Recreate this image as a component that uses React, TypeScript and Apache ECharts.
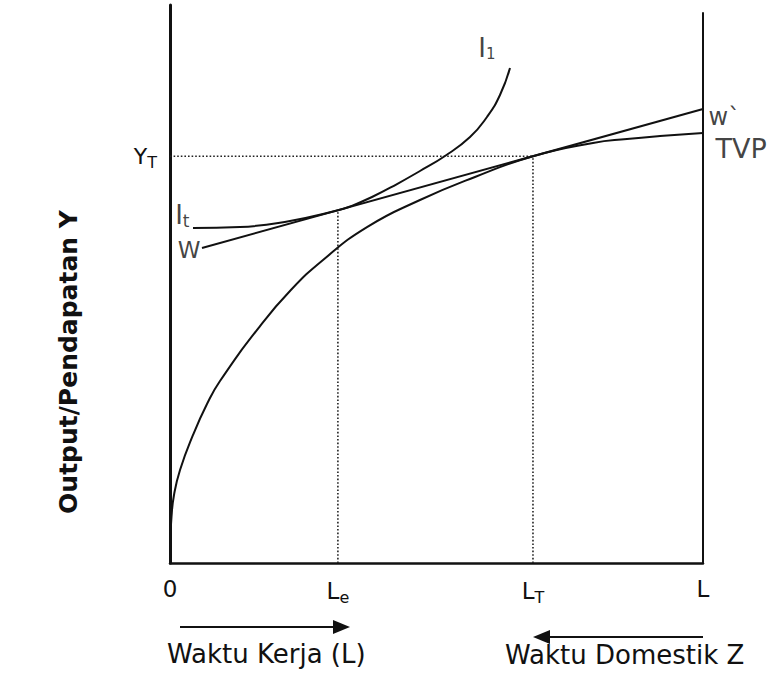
import React, { useEffect, useRef } from "react";
import * as echarts from "echarts";

// ---- data (abstract units: x = time 0..L(100), y = output 0..100) ----
const tvpCurve: [number, number][] = [
  [0, 0], [0.09, 4.12], [0.28, 8.24], [0.75, 12.19], [1.88, 16.67], [4.32, 22.94],
  [6.94, 28.49], [9.38, 32.62], [16.89, 42.47], [22.51, 48.75], [28.71, 54.3],
  [36.96, 60.2], [46.9, 65.05], [57.22, 69.18], [68.1, 72.9], [79.36, 75.27],
  [85.74, 75.99], [91.93, 76.52], [100, 77.06],
];
const indifferenceCurve: [number, number][] = [
  [4.32, 60.04], [13.13, 60.22], [22.51, 61.31], [31.52, 63.2], [33.77, 63.89],
  [37.9, 65.59], [42.59, 67.92], [46.9, 70.25], [51.59, 72.94], [56.29, 76.34],
  [59.47, 79.93], [61.91, 83.87], [63.79, 88.71],
];
const wageLine: [number, number][] = [[6.0, 56.45], [100, 81.36]];
const Le = 31.5;
const LT = 68.1;
const Lmax = 100;
const YT = 72.9;
const YLe = 63.2;
const rightBorderTop = 98.7;
const xTickValues = [0, Le, LT, Lmax];
const xTickLabels = ["0", "L{s|e}", "L{s|T}", "L"];
const yTickValues = [YT];
const yTickLabels = ["Y{s|T}"];
const yTitle = "Output/Pendapatan Y";
const bottomLeftText = "Waktu Kerja (L)";
const bottomRightText = "Waktu Domestik Z";

const FONT = "DejaVu Sans";
const INK = "#111";

export default function App() {
  const ref = useRef<HTMLDivElement>(null);
  useEffect(() => {
    if (!ref.current) return;
    const chart = echarts.init(ref.current, undefined, { renderer: "svg" });
    const sub = (fs: number, pad: number) => ({ fontSize: fs, fontFamily: FONT, color: INK, padding: [pad, 0, 0, 0] });
    const lbl = (pt: [number, number], text: string, label: any) => ({
      value: pt,
      label: { show: true, formatter: text, color: INK, fontFamily: FONT, ...label },
    });
    const lineStyle = { color: INK, width: 2 };
    const dotted = { color: "#222", width: 1.6, type: [1.6, 2] as any };

    chart.setOption({
      animation: false,
      backgroundColor: "#fff",
      grid: { left: 170, right: 71, top: 5, bottom: 114, containLabel: false },
      xAxis: {
        type: "value", min: 0, max: Lmax,
        axisLine: { show: true, onZero: false, lineStyle: { color: INK, width: 2.5 } },
        axisTick: { show: false },
        splitLine: { show: false },
        axisLabel: {
          customValues: xTickValues,
          margin: 14,
          formatter: (v: number) => xTickLabels[xTickValues.indexOf(v)] ?? "",
          color: INK, fontFamily: FONT, fontSize: 23,
          rich: { s: sub(16, 12) },
        },
      },
      yAxis: {
        type: "value", min: 0, max: 100,
        axisLine: { show: true, onZero: false, lineStyle: { color: INK, width: 3 } },
        axisTick: { show: false },
        splitLine: { show: false },
        axisLabel: {
          customValues: yTickValues,
          margin: 13,
          formatter: (v: number) => yTickLabels[yTickValues.indexOf(v)] ?? "",
          color: INK, fontFamily: FONT, fontSize: 22,
          rich: { s: sub(16, 12) },
        },
      },
      series: [
        { type: "line", data: [[0, YT], [LT, YT]], showSymbol: false, lineStyle: dotted, silent: true },
        { type: "line", data: [[Le, 0], [Le, YLe]], showSymbol: false, lineStyle: dotted, silent: true },
        { type: "line", data: [[LT, 0], [LT, YT]], showSymbol: false, lineStyle: dotted, silent: true },
        { type: "line", data: [[Lmax, 0], [Lmax, rightBorderTop]], showSymbol: false, lineStyle: { color: INK, width: 2 }, silent: true },
        { type: "line", name: "TVP", data: tvpCurve, showSymbol: false, smooth: 0.5, lineStyle, silent: true },
        { type: "line", name: "I", data: indifferenceCurve, showSymbol: false, smooth: 0.5, lineStyle, silent: true },
        { type: "line", name: "w", data: wageLine, showSymbol: false, lineStyle, silent: true },
        {
          type: "scatter", symbolSize: 1, itemStyle: { color: "rgba(0,0,0,0)" }, silent: true,
          data: [
            lbl(indifferenceCurve[0], "I{s|t}", { position: "left", distance: 3, offset: [0, -13], fontSize: 26, rich: { s: sub(17, 12) } }),
            lbl(indifferenceCurve[indifferenceCurve.length - 1], "I{s|1}", { position: "left", distance: 14, offset: [0, -20], fontSize: 26, rich: { s: sub(15, 12) } }),
            lbl(wageLine[0], "W", { position: "left", distance: 1, offset: [0, 2], fontSize: 23 }),
            lbl(wageLine[1], "w`", { position: "right", distance: 5, offset: [0, 8], fontSize: 24 }),
            lbl(tvpCurve[tvpCurve.length - 1], "TVP", { position: "right", distance: 12, offset: [0, 15], fontSize: 27 }),
          ],
        },
      ],
      graphic: [
        {
          type: "text", x: 68, y: 362, rotation: Math.PI / 2,
          style: { text: yTitle, fill: INK, font: `bold 25px ${FONT}`, align: "center", verticalAlign: "middle" },
        },
        { type: "line", shape: { x1: 180, y1: 627, x2: 336, y2: 627 }, style: { stroke: INK, lineWidth: 2 } },
        { type: "polygon", shape: { points: [[333, 620], [350, 627], [333, 634]] }, style: { fill: INK } },
        { type: "line", shape: { x1: 547, y1: 637, x2: 703, y2: 637 }, style: { stroke: INK, lineWidth: 2 } },
        { type: "polygon", shape: { points: [[550, 630], [533, 637], [550, 644]] }, style: { fill: INK } },
        {
          type: "text", x: 167, y: 654,
          style: { text: bottomLeftText, fill: INK, font: `26px ${FONT}`, align: "left", verticalAlign: "middle" },
        },
        {
          type: "text", x: 505, y: 655,
          style: { text: bottomRightText, fill: INK, font: `26px ${FONT}`, align: "left", verticalAlign: "middle" },
        },
      ],
    });
    return () => chart.dispose();
  }, []);
  return <div ref={ref} style={{ position: "absolute", left: 0, top: 0, width: 774, height: 677 }} />;
}
